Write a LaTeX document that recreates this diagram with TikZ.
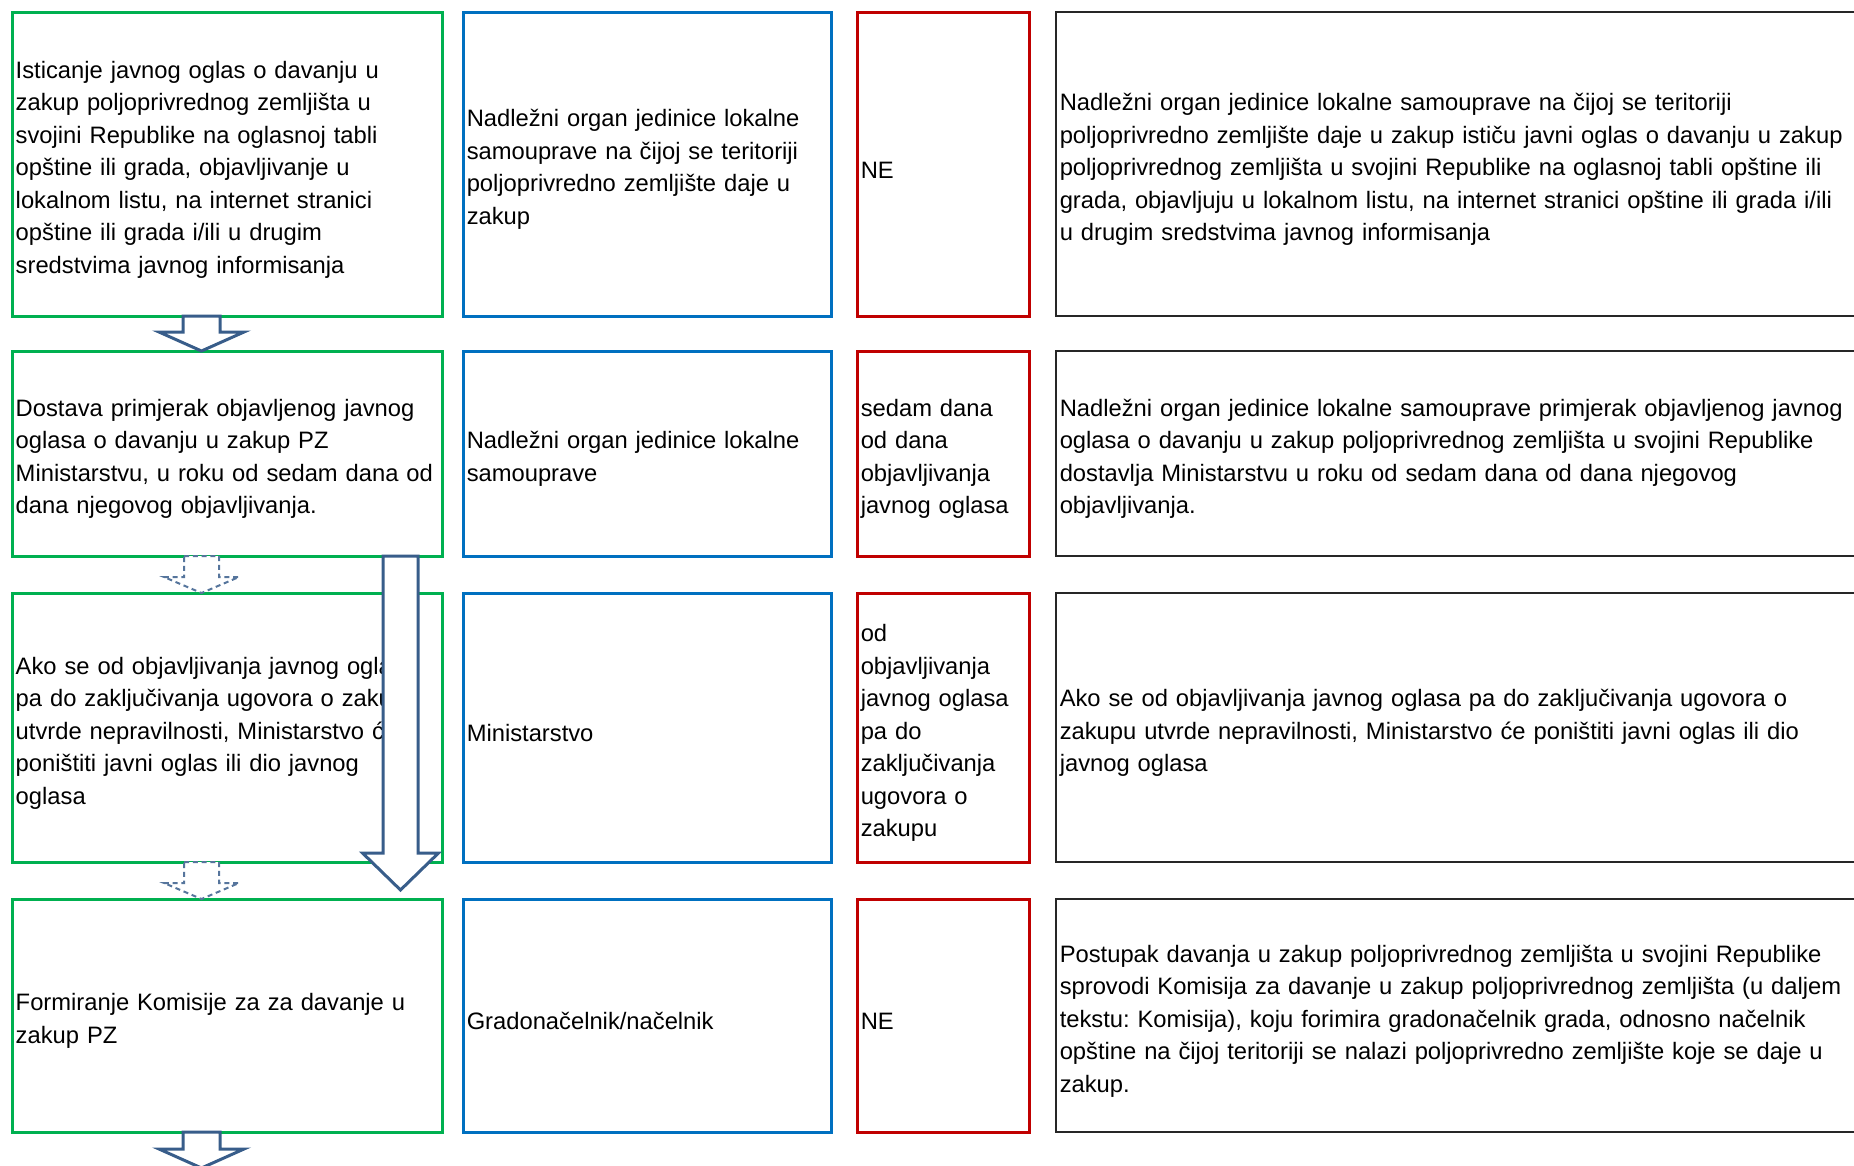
\documentclass[tikz,border=0pt]{standalone}
\usepackage{fontspec}
\setmainfont{Liberation Sans}
\usepackage{xcolor}
\usepackage{tikz}
\usetikzlibrary{positioning,calc}
\frenchspacing
\definecolor{grn}{HTML}{00B050}
\definecolor{blu}{HTML}{0070C0}
\definecolor{rd}{HTML}{C00000}
\definecolor{arrblue}{HTML}{385D8A}
% block arrow: [style]{from}{to}{shaft half}{head half}{head length}
\newcommand{\blkarrow}[6][]{%
  \draw[blkarr,#1] let \p1=(#2), \p2=(#3) in
    (\x1-#4,\y1) -- (\x1+#4,\y1) -- (\x1+#4,\y2+#6) -- (\x1+#5,\y2+#6)
    -- (\x1,\y2) -- (\x1-#5,\y2+#6) -- (\x1-#4,\y2+#6) -- cycle;}

\begin{document}
\begin{tikzpicture}[x=0.4pt, y=-0.4pt,
  font=\fontsize{9.5}{13}\selectfont,
  box/.style={draw, fill=white, line width=1.2pt, outer sep=0pt, inner xsep=1.5pt,
    inner ysep=0pt, align=left, execute at begin node={\rule{0pt}{11.2pt}}},
  gbox/.style={box, draw=grn, text width=169pt, minimum width=172pt},
  bbox/.style={box, draw=blu, text width=144.2pt, minimum width=147.2pt},
  rbox/.style={box, draw=rd, text width=65.8pt, minimum width=68.8pt},
  kbox/.style={box, draw=black!85, line width=0.8pt, text width=322.6pt, minimum width=325.6pt},
  row1/.style={minimum height=121.6pt},
  row2/.style={minimum height=82pt},
  row3/.style={minimum height=107.6pt},
  row4/.style={minimum height=93.2pt},
  blkarr/.style={draw=arrblue, fill=white, line width=1.2pt, line join=miter},
  blkdash/.style={line width=0.8pt, dash pattern=on 2pt off 1.5pt, draw=arrblue!85}]
\useasboundingbox (0,0) rectangle (1854,1166);
\clip (0,0) rectangle (1854,1166);

\node[gbox, row1, anchor=north west] (g1) at (12,12) {Isticanje javnog oglas o davanju u\\zakup poljoprivrednog zemljišta u\\svojini Republike na oglasnoj tabli\\opštine ili grada, objavljivanje u\\lokalnom listu, na internet stranici\\opštine ili grada i/ili u drugim\\sredstvima javnog informisanja};
\node[bbox, row1, right=8.4pt of g1] (b1) {Nadležni organ jedinice lokalne\\samouprave na čijoj se teritoriji\\poljoprivredno zemljište daje u\\zakup};
\node[rbox, row1, right=10.4pt of b1] (r1) {NE};
\node[kbox, row1, right=10.8pt of r1] (k1) {Nadležni organ jedinice lokalne samouprave na čijoj se teritoriji\\poljoprivredno zemljište daje u zakup ističu javni oglas o davanju u zakup\\poljoprivrednog zemljišta u svojini Republike na oglasnoj tabli opštine ili\\grada, objavljuju u lokalnom listu, na internet stranici opštine ili grada i/ili\\u drugim sredstvima javnog informisanja};

\node[gbox, row2, below=14pt of g1] (g2) {Dostava primjerak objavljenog javnog\\oglasa o davanju u zakup PZ\\Ministarstvu, u roku od sedam dana od\\dana njegovog objavljivanja.};
\node[bbox, row2, right=8.4pt of g2] (b2) {Nadležni organ jedinice lokalne\\samouprave};
\node[rbox, row2, right=10.4pt of b2] (r2) {sedam dana\\od dana\\objavljivanja\\javnog oglasa};
\node[kbox, row2, right=10.8pt of r2] (k2) {Nadležni organ jedinice lokalne samouprave primjerak objavljenog javnog\\oglasa o davanju u zakup poljoprivrednog zemljišta u svojini Republike\\dostavlja Ministarstvu u roku od sedam dana od dana njegovog\\objavljivanja.};

\node[gbox, row3, below=14.8pt of g2] (g3) {Ako se od objavljivanja javnog oglasa\\pa do zaključivanja ugovora o zakupu\\utvrde nepravilnosti, Ministarstvo će\\poništiti javni oglas ili dio javnog\\oglasa};
\node[bbox, row3, right=8.4pt of g3] (b3) {Ministarstvo};
\node[rbox, row3, right=10.4pt of b3] (r3) {od\\objavljivanja\\javnog oglasa\\pa do\\zaključivanja\\ugovora o\\zakupu};
\node[kbox, row3, right=10.8pt of r3] (k3) {Ako se od objavljivanja javnog oglasa pa do zaključivanja ugovora o\\zakupu utvrde nepravilnosti, Ministarstvo će poništiti javni oglas ili dio\\javnog oglasa};

\node[gbox, row4, below=14.8pt of g3] (g4) {Formiranje Komisije za za davanje u\\zakup PZ};
\node[bbox, row4, right=8.4pt of g4] (b4) {Gradonačelnik/načelnik};
\node[rbox, row4, right=10.4pt of b4] (r4) {NE};
\node[kbox, row4, right=10.8pt of r4] (k4) {Postupak davanja u zakup poljoprivrednog zemljišta u svojini Republike\\sprovodi Komisija za davanje u zakup poljoprivrednog zemljišta (u daljem\\tekstu: Komisija), koju forimira gradonačelnik grada, odnosno načelnik\\opštine na čijoj teritoriji se nalazi poljoprivredno zemljište koje se daje u\\zakup.};

% arrows
\coordinate (ax) at (201.5,0);
\coordinate (bx) at (400.5,0);
\coordinate (btip) at (400.5,890);
\coordinate (end) at (201.5,1168);
\blkarrow{ax |- g1.south}{ax |- g2.north}{7.4pt}{17pt}{7.6pt}
\blkarrow[blkdash]{ax |- g2.south}{ax |- g3.north}{7pt}{15pt}{6.4pt}
\blkarrow[blkdash]{ax |- g3.south}{ax |- g4.north}{7pt}{15pt}{6.4pt}
\blkarrow{bx |- g2.south}{btip}{7pt}{15.2pt}{14.8pt}
\blkarrow{ax |- g4.south}{end}{7.4pt}{17pt}{7.6pt}
\end{tikzpicture}
\end{document}
